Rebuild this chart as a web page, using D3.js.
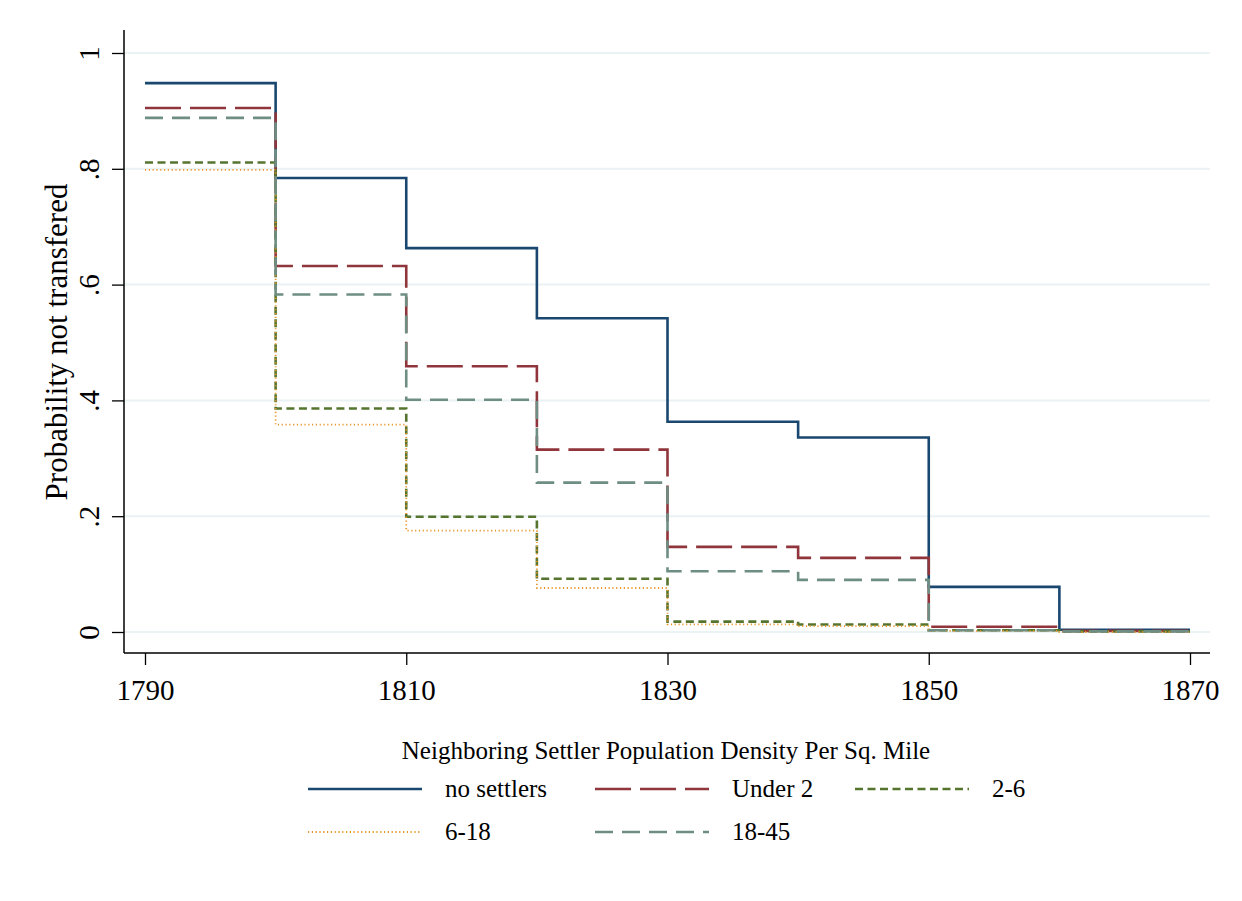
<!DOCTYPE html>
<html>
<head>
<meta charset="utf-8">
<script src="https://cdn.jsdelivr.net/npm/d3@7"></script>
<style>
  html, body { margin: 0; padding: 0; background: #fff; }
  text { font-family: "Liberation Serif", "Times New Roman", serif; fill: #000; }
</style>
</head>
<body>
<svg id="chart" width="1242" height="901"></svg>
<script>
// ---- data ----
const years = [1790, 1800, 1810, 1820, 1830, 1840, 1850, 1860, 1870];
const seriesNames = ["no settlers", "Under 2", "2-6", "6-18", "18-45"];
const noSettlers = [0.948, 0.784, 0.663, 0.542, 0.363, 0.336, 0.078, 0.004, 0.004];
const under2     = [0.905, 0.632, 0.459, 0.315, 0.147, 0.128, 0.009, 0.002, 0.002];
const d2to6      = [0.811, 0.386, 0.199, 0.092, 0.018, 0.013, 0.003, 0.001, 0.001];
const d6to18     = [0.798, 0.358, 0.175, 0.076, 0.013, 0.010, 0.002, 0.000, 0.000];
const d18to45    = [0.888, 0.583, 0.401, 0.258, 0.105, 0.090, 0.003, 0.001, 0.001];
const yTicks = [0, 0.2, 0.4, 0.6, 0.8, 1];
const yTickLabels = ["0", ".2", ".4", ".6", ".8", "1"];
const xTicks = [1790, 1810, 1830, 1850, 1870];

const seriesValues = [noSettlers, under2, d2to6, d6to18, d18to45];
const styles = [
  { color: "#1a476f", width: 2.6, dash: null },
  { color: "#90353b", width: 2.6, dash: "36,9" },
  { color: "#55752f", width: 2.6, dash: "8,4.5" },
  { color: "#e8962a", width: 1.8, dash: "1.2,2.6" },
  { color: "#6e8e84", width: 2.6, dash: "18,9" }
];

const svg = d3.select("#chart");
const x = d3.scaleLinear().domain([1790, 1870]).range([145, 1190]);
const y = d3.scaleLinear().domain([0, 1]).range([632, 53]);

const axisLeftX = 124, axisBottomY = 653, plotRight = 1210, plotTop = 30;

// gridlines
svg.append("g").selectAll("line").data(yTicks).join("line")
  .attr("x1", axisLeftX).attr("x2", plotRight)
  .attr("y1", d => y(d)).attr("y2", d => y(d))
  .attr("stroke", "#eaf2f3").attr("stroke-width", 2);

// series
const line = d3.line().x((d, i) => x(years[i])).y(d => y(d)).curve(d3.curveStepAfter);
seriesValues.forEach((vals, i) => {
  const s = styles[i];
  const p = svg.append("path").attr("d", line(vals))
    .attr("fill", "none").attr("stroke", s.color)
    .attr("stroke-width", s.width).attr("stroke-linejoin", "miter");
  if (s.dash) p.attr("stroke-dasharray", s.dash);
});

// y axis
const yAxis = d3.axisLeft(y).tickValues(yTicks).tickFormat((d, i) => yTickLabels[i]).tickSize(12).tickPadding(0);
const gy = svg.append("g").attr("transform", `translate(${axisLeftX},0)`).call(yAxis);
gy.select(".domain").remove();
gy.selectAll(".tick line").attr("stroke", "#000").attr("stroke-width", 1.3);
gy.selectAll(".tick text")
  .attr("x", 0).attr("dy", null)
  .attr("transform", "translate(-35,0) rotate(-90)")
  .attr("text-anchor", "middle").attr("dominant-baseline", "central")
  .style("font-size", "29px");
svg.append("line").attr("x1", axisLeftX).attr("x2", axisLeftX)
  .attr("y1", plotTop).attr("y2", axisBottomY).attr("stroke", "#000").attr("stroke-width", 1.5);

// x axis
const xAxis = d3.axisBottom(x).tickValues(xTicks).tickFormat(d3.format("d")).tickSize(12).tickPadding(14);
const gx = svg.append("g").attr("transform", `translate(0,${axisBottomY})`).call(xAxis);
gx.select(".domain").remove();
gx.selectAll(".tick line").attr("stroke", "#000").attr("stroke-width", 1.3);
gx.selectAll(".tick text").style("font-size", "29px");
svg.append("line").attr("x1", axisLeftX).attr("x2", plotRight)
  .attr("y1", axisBottomY).attr("y2", axisBottomY).attr("stroke", "#000").attr("stroke-width", 1.5);

// y axis title
svg.append("text")
  .attr("transform", "translate(67,342) rotate(-90)")
  .attr("text-anchor", "middle")
  .style("font-size", "31px")
  .text("Probability not transfered");

// legend
svg.append("text").attr("x", 666).attr("y", 759).attr("text-anchor", "middle")
  .style("font-size", "25px").text("Neighboring Settler Population Density Per Sq. Mile");

const legendPos = [
  { x: 308, y: 789 }, { x: 595, y: 789 }, { x: 855, y: 789 },
  { x: 308, y: 832 }, { x: 595, y: 832 }
];
seriesNames.forEach((name, i) => {
  const s = styles[i], p = legendPos[i];
  const l = svg.append("line").attr("x1", p.x).attr("x2", p.x + 114)
    .attr("y1", p.y).attr("y2", p.y).attr("stroke", s.color).attr("stroke-width", s.width);
  if (s.dash) l.attr("stroke-dasharray", s.dash);
  svg.append("text").attr("x", p.x + 137).attr("y", p.y + 8)
    .style("font-size", "25px").text(name);
});
</script>
</body>
</html>
